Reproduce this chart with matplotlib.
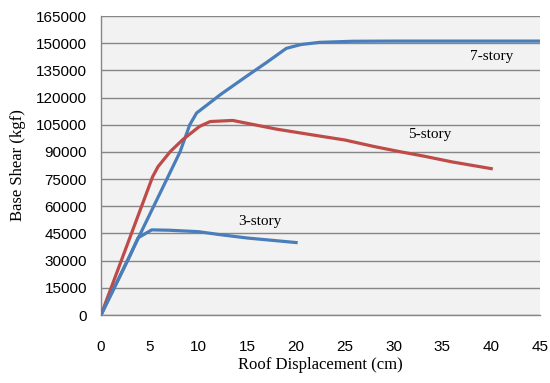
import numpy as np
import matplotlib.pyplot as plt

# roof displacement (cm) vs base shear (kgf)
x3 = [0, 1, 2, 3, 3.8, 5.2, 7, 10, 12, 15, 18, 20]
v3 = [0, 11000, 22000, 33000, 42600, 47000, 46800, 46000, 44500, 42500, 41000, 40000]

x5 = [0, 5.3, 5.85, 7.1, 8.4, 10.1, 11.2, 13.5, 15, 18, 21.7, 25, 28, 30.6, 33, 36, 40]
v5 = [0, 76400, 81900, 90200, 96900, 104100, 106800, 107400, 105800, 102600,
      99400, 96600, 93000, 90200, 87800, 84500, 80800]

x7 = [0, 8.1, 9.1, 9.8, 11.2, 12.2, 14.9, 17, 19, 20.5, 22.4, 25.8, 30, 35, 40, 45]
v7 = [0, 90000, 105000, 111500, 117300, 121500, 131700, 139500, 147200,
      149300, 150500, 151100, 151200, 151200, 151200, 151200]

xticks = np.arange(0, 50, 5)
yticks = np.arange(0, 180000, 15000)

fig = plt.figure(figsize=(5.5, 3.83), dpi=100)
ax = fig.add_axes([0.1836, 0.1775, 0.7982, 0.7805])
ax.set_facecolor('#f2f2f2')

ax.plot(x7, v7, color='#4a7ebb', lw=2.3, zorder=3)
ax.plot(x5, v5, color='#be4b48', lw=2.3, zorder=3)
ax.plot(x3, v3, color='#4a7ebb', lw=2.3, zorder=3)

ax.text(40, 142800, '7-story', family='Liberation Serif', fontsize=11, ha='center', va='center')
ax.text(33.7, 99600, '5-story', family='Liberation Serif', fontsize=11, ha='center', va='center')
ax.text(16.3, 51500, '3-story', family='Liberation Serif', fontsize=11, ha='center', va='center')

ax.set_xlim(0, 45)
ax.set_ylim(0, 165000)
ax.set_xticks(xticks)
ax.set_yticks(yticks)
ax.set_xticklabels([str(t) for t in xticks], family='Liberation Sans', fontsize=11)
ax.set_yticklabels([str(t) for t in yticks], family='Liberation Sans', fontsize=11)
ax.tick_params(axis='x', length=0, pad=18)
ax.tick_params(axis='y', length=0, pad=10)
ax.yaxis.grid(True, color='#868686', lw=1)
ax.set_axisbelow(True)

for s in ['top', 'right']:
    ax.spines[s].set_visible(False)
for s in ['left', 'bottom']:
    ax.spines[s].set_color('#868686')
    ax.spines[s].set_linewidth(1)

ax.set_xlabel('Roof Displacement (cm)', family='Liberation Serif', fontsize=12, labelpad=2)
ax.set_ylabel('Base Shear (kgf)', family='Liberation Serif', fontsize=12, labelpad=7)

plt.savefig('out.png', dpi=100)
plt.close()
